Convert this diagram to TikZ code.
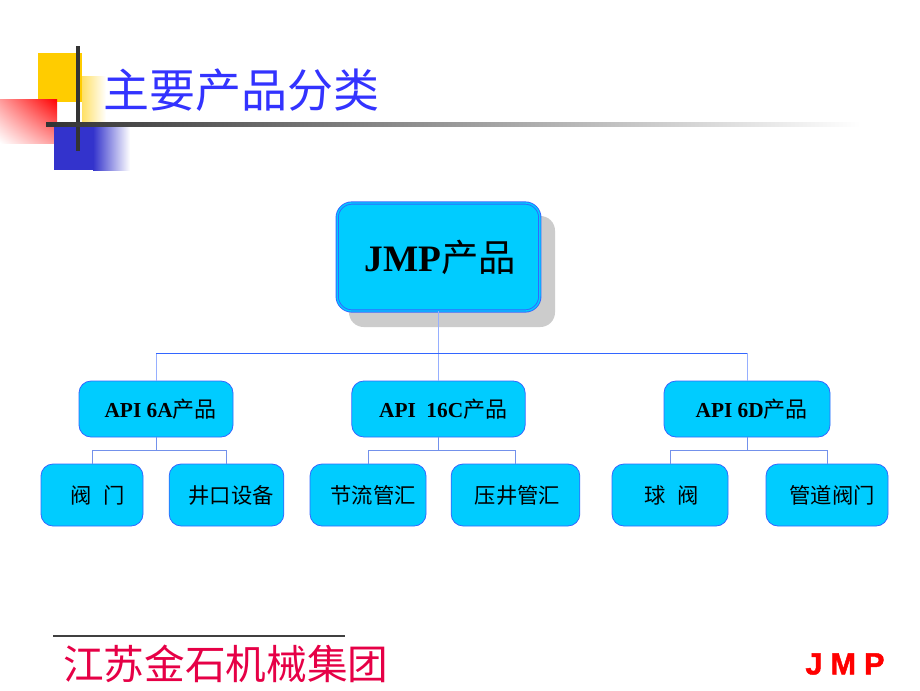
\documentclass[tikz,border=0pt]{standalone}
\usepackage{fontspec}
\usetikzlibrary{shadings}
\setmainfont{Liberation Serif}
\newfontfamily\cjk{Noto Sans CJK SC}
\newfontfamily\logofont[UprightFont=* Bold,FakeBold=1.5]{Liberation Sans}
\definecolor{boxfill}{RGB}{0,204,255}
\definecolor{boxline}{RGB}{51,102,255}
\definecolor{palewire}{RGB}{150,175,255}
\definecolor{subwire}{RGB}{115,145,235}
\definecolor{titleblue}{RGB}{51,51,255}
\definecolor{crimson}{RGB}{230,0,70}
\definecolor{logoyellow}{RGB}{255,204,0}
\definecolor{logoblue}{RGB}{51,51,204}
\tikzset{
  x=0.75pt,y=-0.75pt,
  box/.style={draw=boxline,fill=boxfill,rounded corners=9pt,line width=0.6pt,inner sep=0pt,align=center,text=black},
  midbox/.style={box,font=\bfseries\fontsize{16}{18}\selectfont},
  leafbox/.style={box,font=\cjk\fontsize{16}{20}\selectfont},
  wire/.style={draw=boxline,line width=0.5pt},
  palew/.style={draw=palewire,line width=0.6pt},
  subw/.style={draw=subwire,line width=0.6pt},
}
\newcommand{\shifted}[1]{\hspace*{#1pt}}
\newcommand{\cjkmid}[1]{{\cjk\mdseries\fontsize{16.5}{18}\selectfont #1}}
\begin{document}
\begin{tikzpicture}
\useasboundingbox (0,0) rectangle (920,690);
\fill[white] (0,0) rectangle (920,690);
% logo blocks
\fill[logoyellow] (38,53) rectangle (82,102);
\shade[left color=logoyellow!60,right color=white] (82,76) rectangle (106,122);
\shade[lower left=white,upper right=red,upper left=red!40,lower right=red!40] (0,99) rectangle (57,143);
\fill[logoblue] (54,122) rectangle (93,170);
\shade[left color=logoblue,right color=white] (93,122) rectangle (130,170);
\draw[line width=2.4pt,black!80] (78,46) -- (78,151);
\shade[left color=black!80,right color=white] (46,122) rectangle (860,126);
% title
\node[anchor=west,inner sep=0pt,text=titleblue,font=\cjk\fontsize{34.5}{36}\selectfont] (title) at (103,90) {主要产品分类};
% shadow and root
\fill[black!20,rounded corners=11pt] (349,216) rectangle (555,327);
\node[box,double=boxfill,draw=boxline,line width=0.7pt,double distance=1pt,rounded corners=11pt,minimum width=152pt,minimum height=81pt] (root) at (438.5,257) {\shifted{3}\bfseries\fontsize{28}{30}\selectfont JMP{\cjk\mdseries\fontsize{28}{30}\selectfont 产品}};
% second level
\node[midbox,minimum width=115.5pt,minimum height=42pt] (a) at (156,409) {\shifted{7}API 6A\cjkmid{产品}};
\node[midbox,minimum width=130pt,minimum height=42pt] (b) at (438.5,409) {\shifted{7}API~~16C\cjkmid{产品}};
\node[midbox,minimum width=124.5pt,minimum height=42pt] (c) at (747,409) {\shifted{7}API 6D\cjkmid{产品}};
% third level
\node[leafbox,minimum width=76.5pt,minimum height=46.5pt] (a1) at (92,495) {\shifted{8}阀\hspace{9pt}门};
\node[leafbox,minimum width=86pt,minimum height=46.5pt] (a2) at (226.5,495) {\shifted{7}井口设备};
\node[leafbox,minimum width=87pt,minimum height=46.5pt] (b1) at (368,495) {\shifted{7.5}节流管汇};
\node[leafbox,minimum width=96.5pt,minimum height=46.5pt] (b2) at (515.5,495) {\shifted{3}压井管汇};
\node[leafbox,minimum width=87pt,minimum height=46.5pt] (c1) at (670,495) {\shifted{3}球\hspace{9pt}阀};
\node[leafbox,minimum width=91.5pt,minimum height=46.5pt] (c2) at (827,495) {\shifted{7.5}管道阀门};
% connectors
\coordinate (rs) at (438.5,353);
\coordinate (as) at (156,450);
\coordinate (bs) at (438.5,450);
\coordinate (cs) at (747,450);
\draw[palew] (root.south) -- (b.north);
\draw[palew] (a.north) -- (a.north|-rs);
\draw[palew] (c.north) -- (c.north|-rs);
\draw[wire] (a.north|-rs) -- (c.north|-rs);
\draw[subw] (a.south) -- (as);
\draw[subw] (a1.north) |- (as) -| (a2.north);
\draw[subw] (b.south) -- (bs);
\draw[subw] (b1.north) |- (bs) -| (b2.north);
\draw[subw] (c.south) -- (cs);
\draw[subw] (c1.north) |- (cs) -| (c2.north);
% footer
\coordinate (fl) at (53,636);
\coordinate (fr) at (345,636);
\draw[line width=0.8pt,black!75] (fl) -- (fr);
\node[anchor=west,inner sep=0pt,text=crimson,font=\cjk\fontsize{30.5}{32}\selectfont] (foot) at (63,664) {江苏金石机械集团};
\node[anchor=center,inner sep=0pt,text=red,font=\logofont\fontsize{23}{24}\selectfont] (jmp) at (845,664) {J\hspace{6pt}M\hspace{6pt}P};
\end{tikzpicture}
\end{document}
